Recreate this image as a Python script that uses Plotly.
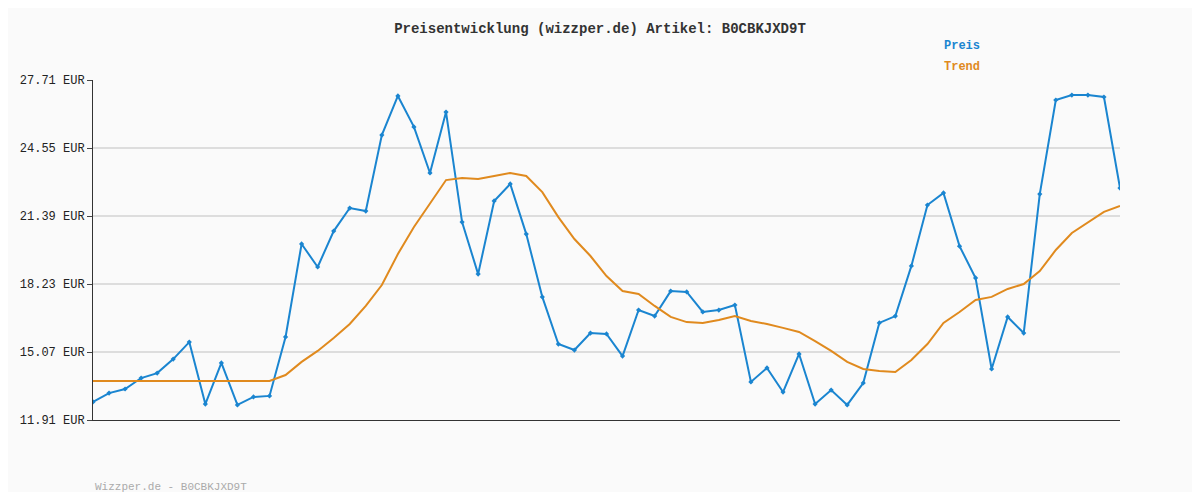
import plotly.graph_objects as go

idx = list(range(65))
preis = [12.75,13.16,13.35,13.86,14.09,14.74,15.53,12.65,14.56,12.61,12.98,13.03,15.77,20.09,19.02,20.69,21.76,21.62,25.15,26.97,25.53,23.39,26.22,21.11,18.69,22.09,22.88,20.55,17.63,15.44,15.16,15.95,15.91,14.88,17.02,16.74,17.90,17.86,16.93,17.02,17.25,13.68,14.33,13.21,14.98,12.65,13.30,12.61,13.63,16.42,16.74,19.07,21.90,22.46,19.99,18.51,14.28,16.70,15.95,22.41,26.78,27.01,27.01,26.92,22.69]
trend = [13.72]*11 + [13.72,14.0,14.61,15.12,15.72,16.37,17.21,18.18,19.62,20.88,21.99,23.06,23.16,23.11,23.25,23.39,23.25,22.5,21.34,20.32,19.53,18.6,17.9,17.77,17.21,16.7,16.46,16.42,16.56,16.74,16.51,16.37,16.19,16.0,15.58,15.12,14.61,14.28,14.19,14.14,14.7,15.44,16.42,16.93,17.49,17.63,18.0,18.23,18.83,19.81,20.6,21.11,21.58,21.86]
trend = trend[:65]
ticks = [11.91,15.07,18.23,21.39,24.55,27.71]
tick_labels = [f"{t:.2f} EUR" for t in ticks]

font = "Liberation Mono, DejaVu Sans Mono, monospace"
fig = go.Figure()
fig.add_trace(go.Scatter(x=idx, y=preis, name="Preis", mode="lines+markers",
    line=dict(color="#1a85d0", width=2), marker=dict(size=4, symbol="diamond", color="#1a85d0")))
fig.add_trace(go.Scatter(x=idx, y=trend, name="Trend", mode="lines",
    line=dict(color="#e08a1e", width=2)))
fig.update_layout(
    width=1184, height=484, paper_bgcolor="#fafafa", plot_bgcolor="#fafafa",
    margin=dict(l=72, r=72, t=72, b=72),
    font=dict(family=font, size=12, color="#222"),
    title=dict(text="<b>Preisentwicklung (wizzper.de) Artikel: B0CBKJXD9T</b>", x=0.5, y=0.959,
               xanchor="center", yanchor="middle", font=dict(size=14, family=font, color="#333")),
    showlegend=False,
    xaxis=dict(range=[0, 64], showgrid=False, showticklabels=False, zeroline=False,
               showline=True, linecolor="#333", linewidth=1),
    yaxis=dict(range=[11.91, 27.71], tickvals=ticks, ticktext=tick_labels, showgrid=True,
               gridcolor="#dddddd", gridwidth=2, zeroline=False, showline=True,
               linecolor="#333", linewidth=1, ticks="outside", ticklen=5,
               tickfont=dict(size=12, family=font)),
)
fig.add_annotation(text="<b>Preis</b>", xref="paper", yref="paper", x=0.827, y=1.1,
                   xanchor="left", yanchor="middle", showarrow=False, font=dict(color="#1a85d0", size=12, family=font))
fig.add_annotation(text="<b>Trend</b>", xref="paper", yref="paper", x=0.827, y=1.038,
                   xanchor="left", yanchor="middle", showarrow=False, font=dict(color="#e08a1e", size=12, family=font))
fig.add_annotation(text="Wizzper.de - B0CBKJXD9T", xref="paper", yref="paper", x=0, y=-0.197,
                   xanchor="left", yanchor="middle", showarrow=False, font=dict(color="#aaaaaa", size=11, family=font))
fig.write_html("out.html")
